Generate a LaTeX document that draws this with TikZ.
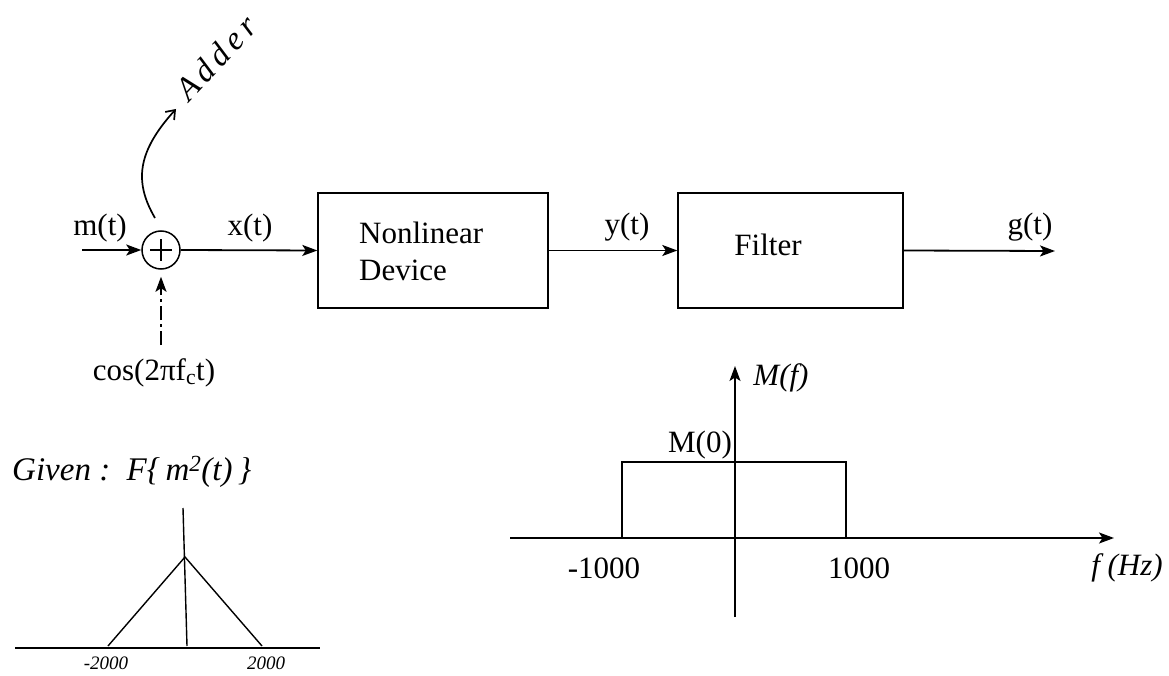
\documentclass[tikz,border=0pt]{standalone}
\usepackage{fontspec}
\setmainfont{Liberation Serif}
\usetikzlibrary{arrows.meta}
\tikzset{
  arr/.style={-{Stealth[length=15pt,width=11pt,inset=3.5pt]}, line width=1.8pt},
  blk/.style={draw, line width=1.4pt, minimum height=115pt, inner sep=0pt},
  lbl/.style={font=\fontsize{31}{36}\selectfont, inner sep=0pt},
  ilbl/.style={font=\fontsize{31}{36}\selectfont\itshape, inner sep=0pt},
  hand/.style={font=\fontsize{33}{38}\selectfont\itshape, inner sep=0pt},
  handsm/.style={font=\fontsize{19}{22}\selectfont\itshape, inner sep=0pt},
  dashpat/.style={dash pattern=on 14pt off 4pt on 3pt off 4pt},
  thinln/.style={line width=1.4pt}
}
\begin{document}
\begin{tikzpicture}[x=1pt,y=-1pt]
\useasboundingbox (0,0) rectangle (1169,676);
% adder
\node[circle, draw, line width=1.5pt, minimum size=38pt, inner sep=0pt] (add) at (161,250) {};
\draw[line width=1.5pt] ([xshift=-11pt]add.center) -- ([xshift=11pt]add.center);
\draw[line width=1.5pt] ([yshift=-11pt]add.center) -- ([yshift=11pt]add.center);
% blocks
\node[blk, minimum width=230pt] (nl) at (433,250.5) {};
\node[blk, minimum width=225pt] (fl) at (790.5,250.5) {};
\node[lbl, align=left, anchor=west] (nltext) at (359,251) {Nonlinear\\[1pt]Device};
\node[lbl] (fltext) at (768,245) {Filter};
% connectors
\coordinate (min) at (82,250);
\coordinate (gout) at (1055,251);
\coordinate (cs) at (161,345);
\draw[arr] (min) -- (add.west);
\draw[arr] (add.east) -- (nl.west);
\draw[arr] (nl.east) -- (fl.west);
\draw[arr] (fl.east) -- (gout);
\draw[arr, dashpat, shorten >=7pt] (cs) -- (add.south);
% signal labels
\node[lbl] (mt) at (100,228) {m(t)};
\node[lbl] (xt) at (250,228) {x(t)};
\node[lbl] (yt) at (627,227) {y(t)};
\node[lbl] (gt) at (1030,227) {g(t)};
\node[lbl] (cos) at (154,373) {cos(2πf\textsubscript{c}t)};
% adder annotation
\coordinate (a1) at (155,218);
\coordinate (a2) at (176,109);
\draw[line width=1.7pt, -{Straight Barb[length=8pt,width=12pt]}] (a1) .. controls (134,182) and (137,152) .. (a2);
\node[hand, rotate=47] (adder) at (216,58) {\addfontfeature{LetterSpace=16}Adder};
% given spectrum
\node[hand, anchor=west] (given) at (12,472) {Given :\ \ F\{\,m\textsuperscript{2}(t)\,\}};
\coordinate (gl) at (15,648);
\coordinate (gr) at (320,648);
\coordinate (tl) at (108,646);
\coordinate (tp) at (185,557);
\coordinate (tr) at (262,646);
\coordinate (vt) at (183,508);
\coordinate (vb) at (187,646);
\draw[line width=2pt] (gl) -- (gr);
\draw[thinln] (tl) -- (tp) -- (tr);
\draw[thinln] (vt) -- (vb);
\node[handsm] (m2k) at (106,663) {-2000};
\node[handsm] (p2k) at (266,663) {2000};
% M(f) spectrum
\coordinate (fl0) at (510,538);
\coordinate (fr0) at (1114,538);
\coordinate (vb0) at (735,617);
\coordinate (vt0) at (735,366);
\draw[arr, line width=1.7pt] (fl0) -- (fr0);
\draw[arr, line width=1.4pt] (vb0) -- (vt0);
\coordinate (r1) at (622,538);
\coordinate (r2) at (622,462);
\coordinate (r3) at (846,462);
\coordinate (r4) at (846,538);
\draw[thinln] (r1) -- (r2) -- (r3) -- (r4);
\node[ilbl] (Mf) at (781,378) {M(f)};
\node[lbl] (M0) at (700,445) {M(0)};
\node[lbl] (n1k) at (604,568) {-1000};
\node[lbl] (p1k) at (859,568) {1000};
\node[ilbl] (fhz) at (1127,568) {f (Hz)};
\end{tikzpicture}
\end{document}
